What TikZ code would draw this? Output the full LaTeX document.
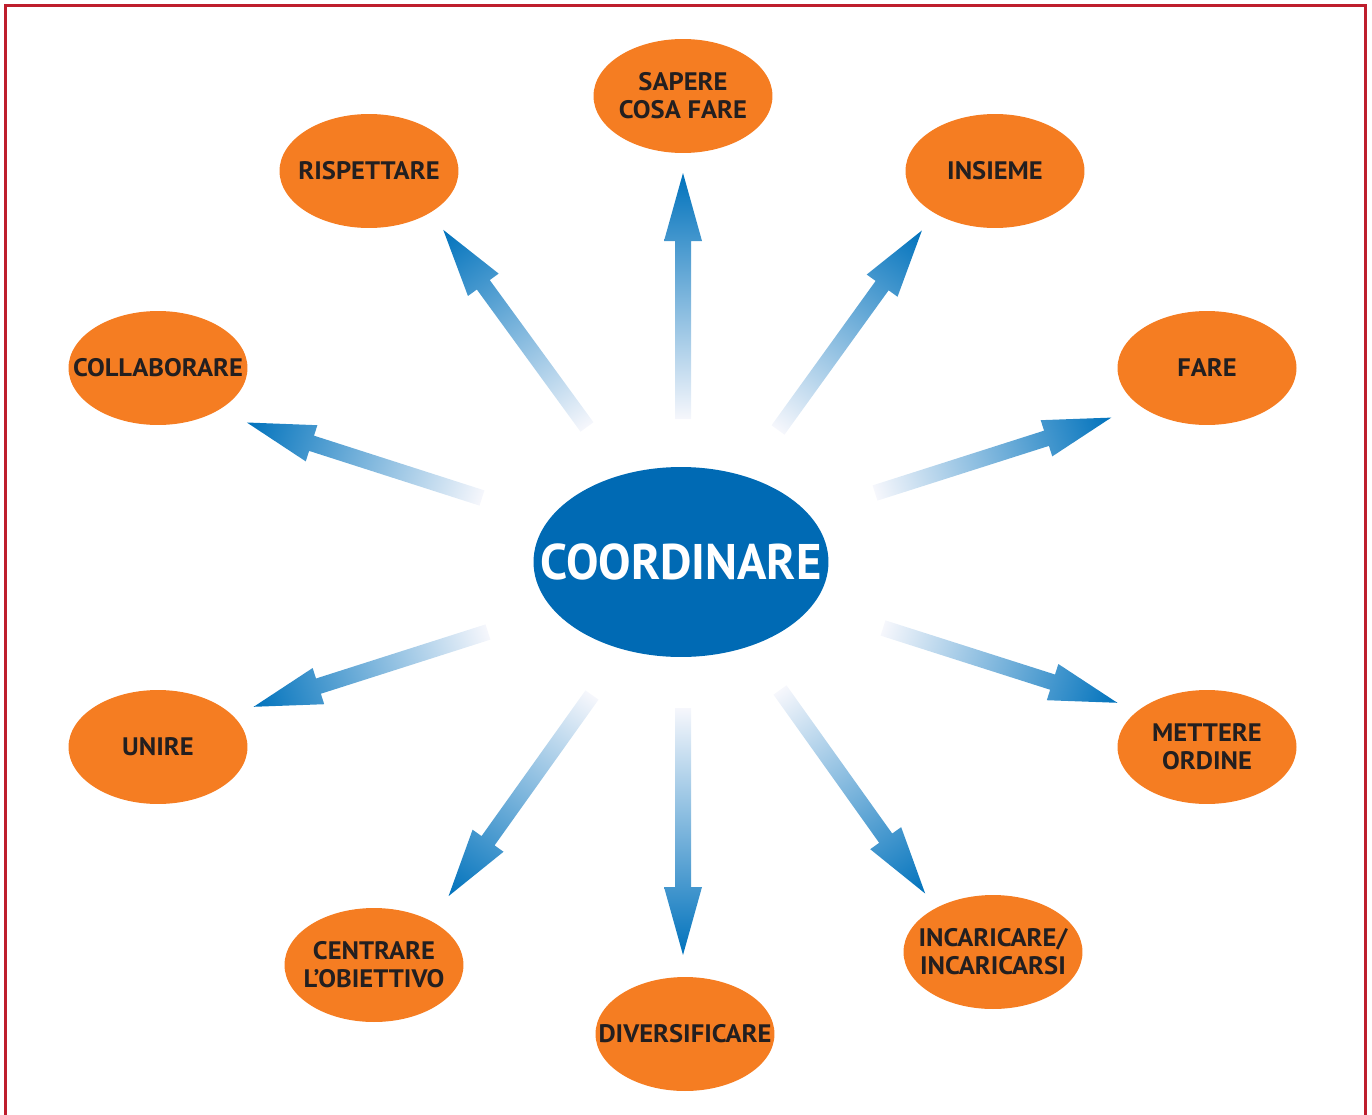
\documentclass[tikz,border=0pt]{standalone}
\usepackage{fontspec}
\setmainfont{PT Sans}
\newfontfamily\bubblefont[FakeStretch=1.05]{PT Sans}
\newfontfamily\corefont[FakeStretch=0.97]{PT Sans}
\usetikzlibrary{shapes.geometric,calc}
\definecolor{BubbleOrange}{RGB}{245,125,34}
\definecolor{CoreBlue}{RGB}{0,106,180}
\definecolor{ArrowBlue}{RGB}{0,114,188}
\definecolor{ArrowMid}{RGB}{125,160,214}
\definecolor{ArrowPale}{RGB}{246,247,252}
\definecolor{FrameRed}{RGB}{190,30,45}
\definecolor{LabelDark}{RGB}{35,31,32}
\tikzset{
  bubble/.style={
    ellipse,
    fill=BubbleOrange,
    minimum width=3.58cm,
    minimum height=2.28cm,
    inner xsep=-0.5cm,
    inner ysep=0pt,
    align=center,
    text=LabelDark,
    font=\bubblefont\bfseries\fontsize{14.4}{15.8}\selectfont,
  },
  core/.style={
    ellipse,
    fill=CoreBlue,
    minimum width=5.9cm,
    minimum height=3.8cm,
    inner xsep=-1cm,
    inner ysep=0pt,
    text=white,
    font=\corefont\bfseries\fontsize{28.5}{30}\selectfont,
  },
  arrow shade/.style={
    left color=ArrowPale,
    middle color=ArrowMid,
    right color=ArrowBlue,
  },
  frame/.style={FrameRed,line width=0.06cm},
}

\begin{document}
\begin{tikzpicture}[x=0.02cm,y=-0.02cm]
\useasboundingbox (0,0) rectangle (1372,1115);

% Outer frame, open at the bottom.
\draw[frame] (5.5,1125) |- (1365,5.5) -- (1365,1125);

% Central idea and the ten bubbles round it.
\node[core] (core) at (681,562) {COORDINARE};

\node[bubble] (sapere) at (683,96) {SAPERE\\COSA FARE};
\node[bubble] (rispettare) at (369,171) {RISPETTARE};
\node[bubble] (insieme) at (995,171) {INSIEME};
\node[bubble] (collaborare) at (158,368) {COLLABORARE};
\node[bubble] (fare) at (1207,368) {FARE};
\node[bubble] (unire) at (158,747) {UNIRE};
\node[bubble] (mettere) at (1207,747) {METTERE\\ORDINE};
\node[bubble] (centrare) at (374,965) {CENTRARE\\L’OBIETTIVO};
\node[bubble] (diversificare) at (685,1034) {DIVERSIFICARE};
\node[bubble] (incaricare) at (993,952) {INCARICARE/\\INCARICARSI};

% Tails of the arrows, on a ring round the centre.
\coordinate (tn) at (683,419);
\coordinate (tnw) at (587,427);
\coordinate (tne) at (778,430);
\coordinate (twu) at (482,498);
\coordinate (teu) at (875,493);
\coordinate (twd) at (488,632);
\coordinate (ted) at (883,628);
\coordinate (tsw) at (592,695);
\coordinate (ts) at (683,708);
\coordinate (tse) at (780,690);

% Shaded arrows: tail, direction, length.
\foreach \t/\a/\l in {tn/90/246,tnw/126.1/244,tne/54.2/246,twu/162.2/247,teu/17.7/248,
                      twd/197.7/246,ted/-17.7/246,tsw/234.5/247,ts/-90/247,tse/-54.5/250}
  \shade[arrow shade,transform canvas={shift={(\t)},rotate=\a}]
    (0,-8) -- (\l-68,-8) -- (\l-68,-19) -- (\l,0) -- (\l-68,19) -- (\l-68,8) -- (0,8) -- cycle;

\end{tikzpicture}
\end{document}
